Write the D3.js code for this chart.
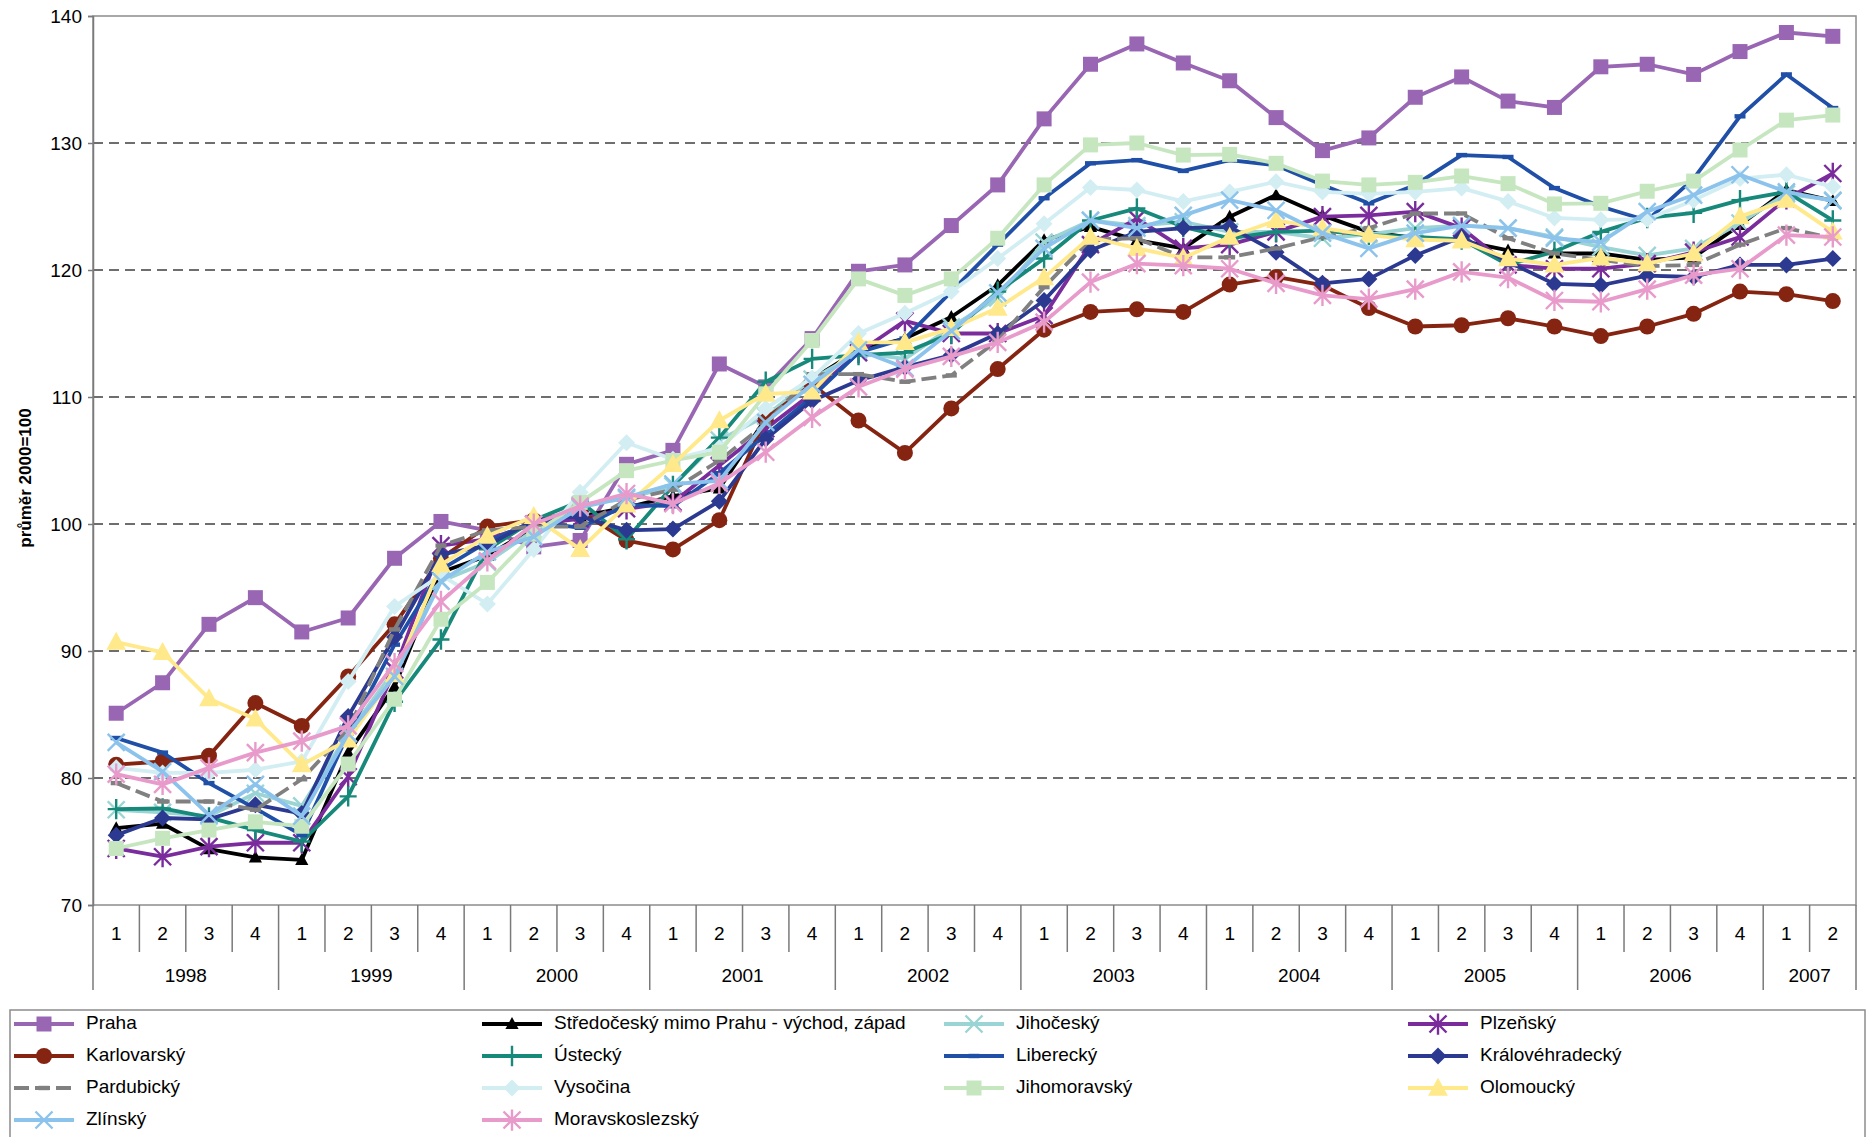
<!DOCTYPE html>
<html>
<head>
<meta charset="utf-8">
<script src="https://cdn.jsdelivr.net/npm/d3@7"></script>
<style>
  html, body { margin: 0; padding: 0; background: #fff; }
  svg { display: block; font-family: "Liberation Sans", Arial, sans-serif; }
</style>
</head>
<body>
<svg id="chart" width="1867" height="1137"></svg>
<script>
// Quarterly index values by region (average 2000 = 100)
const quarterLabels = ["1","2","3","4","1","2","3","4","1","2","3","4","1","2","3","4","1","2","3","4",
                       "1","2","3","4","1","2","3","4","1","2","3","4","1","2","3","4","1","2"];
const yearLabels = ["1998","1999","2000","2001","2002","2003","2004","2005","2006","2007"];
const yearSpans  = [4, 4, 4, 4, 4, 4, 4, 4, 4, 2];
const yTicks = [70, 80, 90, 100, 110, 120, 130, 140];

const praha = [85.1, 87.5, 92.1, 94.2, 91.5, 92.6, 97.3, 100.2, 99.5, 98.2, 98.7, 104.7, 105.8, 112.6, 110.8, 114.6, 119.9, 120.4, 123.5, 126.7, 131.9, 136.2, 137.8, 136.3, 134.9, 132.0, 129.4, 130.4, 133.6, 135.2, 133.3, 132.8, 136.0, 136.2, 135.4, 137.2, 138.7, 138.4];
const stredocesky = [76.05, 76.4, 74.4, 73.75, 73.55, 82.0, 87.2, 96.2, 97.5, 99.7, 100.6, 101.3, 102.2, 102.8, 108.3, 111.4, 113.7, 114.6, 116.3, 118.8, 122.35, 123.4, 122.35, 121.7, 124.2, 125.9, 124.3, 123.0, 122.5, 122.3, 121.55, 121.3, 121.3, 120.8, 121.0, 123.55, 126.3, 125.45];
const jihocesky = [77.5, 77.3, 77.0, 78.8, 77.8, 83.5, 88.5, 95.5, 97.0, 99.5, 101.5, 102.0, 103.0, 106.6, 108.5, 111.4, 113.5, 113.0, 115.5, 117.8, 122.2, 123.9, 123.5, 123.8, 123.0, 123.0, 122.5, 122.8, 123.3, 123.5, 123.3, 122.6, 121.8, 121.15, 121.7, 123.7, 126.0, 125.5];
const plzensky = [74.45, 73.8, 74.6, 74.9, 74.9, 80.1, 88.5, 98.3, 98.8, 100.0, 100.4, 101.2, 101.7, 104.6, 107.5, 110.3, 113.5, 116.0, 115.0, 115.0, 116.4, 122.0, 124.05, 121.7, 122.0, 123.0, 124.2, 124.3, 124.6, 123.3, 120.4, 120.1, 120.1, 120.5, 121.4, 122.6, 125.6, 127.6];
const karlovarsky = [81.05, 81.3, 81.75, 85.9, 84.1, 88.0, 92.1, 97.3, 99.8, 100.3, 101.0, 98.7, 98.0, 100.3, 108.3, 111.0, 108.15, 105.6, 109.1, 112.2, 115.3, 116.7, 116.9, 116.7, 118.85, 119.45, 118.8, 117.0, 115.55, 115.65, 116.2, 115.55, 114.8, 115.55, 116.55, 118.3, 118.1, 117.55];
const ustecky = [77.55, 77.6, 76.9, 75.9, 75.0, 78.55, 86.0, 90.9, 98.0, 100.3, 101.8, 98.8, 103.0, 106.8, 111.2, 113.0, 113.3, 113.5, 115.0, 118.3, 120.9, 123.9, 124.85, 123.4, 122.5, 123.0, 123.1, 122.75, 122.6, 122.4, 120.4, 121.45, 123.0, 124.1, 124.5, 125.5, 126.15, 123.9];
const liberecky = [83.15, 82.0, 79.6, 77.6, 75.5, 83.5, 90.5, 96.4, 98.6, 100.2, 99.7, 101.5, 101.4, 104.0, 107.0, 110.0, 113.5, 114.6, 118.3, 122.0, 125.65, 128.4, 128.65, 127.8, 128.65, 128.25, 126.7, 125.25, 126.7, 129.05, 128.9, 126.45, 125.0, 123.9, 127.2, 132.1, 135.4, 132.75];
const kralovehradecky = [75.5, 76.85, 76.75, 77.9, 77.2, 84.85, 91.1, 97.6, 98.3, 100.3, 100.6, 99.5, 99.6, 101.8, 106.7, 109.7, 111.3, 112.35, 113.3, 115.0, 117.6, 121.55, 123.0, 123.3, 123.4, 121.4, 118.95, 119.3, 121.15, 122.6, 120.65, 118.9, 118.8, 119.55, 119.45, 120.4, 120.4, 120.9];
const pardubicky = [79.6, 78.15, 78.15, 77.5, 79.9, 83.8, 91.7, 98.3, 99.5, 99.8, 99.8, 101.9, 102.7, 105.0, 107.9, 111.8, 111.8, 111.2, 111.7, 114.45, 118.65, 122.4, 122.5, 121.0, 121.0, 121.7, 122.6, 123.3, 124.45, 124.45, 122.5, 121.3, 120.8, 120.3, 120.4, 122.0, 123.3, 122.5];
const vysocina = [80.8, 80.4, 80.4, 80.65, 81.3, 87.6, 93.5, 96.0, 93.7, 98.0, 102.5, 106.4, 105.1, 106.0, 109.1, 111.5, 115.0, 116.6, 118.3, 120.9, 123.65, 126.5, 126.3, 125.4, 126.15, 126.95, 126.15, 126.0, 126.15, 126.45, 125.4, 124.1, 123.95, 124.0, 125.5, 127.2, 127.5, 126.55];
const jihomoravsky = [74.45, 75.25, 75.9, 76.55, 76.2, 81.1, 86.2, 92.5, 95.4, 99.2, 101.7, 104.2, 105.0, 105.65, 110.25, 114.45, 119.3, 118.0, 119.3, 122.5, 126.7, 129.85, 130.0, 129.05, 129.1, 128.4, 127.0, 126.7, 126.9, 127.4, 126.8, 125.2, 125.25, 126.2, 127.0, 129.45, 131.8, 132.2];
const olomoucky = [90.7, 89.9, 86.25, 84.65, 81.05, 83.0, 88.15, 96.8, 99.05, 100.6, 98.0, 101.5, 104.7, 108.15, 110.25, 110.4, 114.3, 114.3, 115.4, 117.0, 119.4, 122.6, 121.7, 120.95, 122.6, 123.9, 123.3, 122.75, 122.4, 122.3, 120.9, 120.4, 120.95, 120.5, 121.3, 124.2, 125.5, 123.0];
const zlinsky = [82.8, 80.5, 77.1, 79.5, 77.0, 83.5, 88.0, 95.5, 97.8, 99.0, 101.3, 102.1, 103.15, 103.4, 108.0, 111.0, 113.7, 112.3, 115.2, 118.2, 121.7, 123.9, 123.3, 124.3, 125.5, 124.7, 122.9, 121.7, 122.9, 123.5, 123.3, 122.5, 122.2, 124.6, 125.9, 127.5, 126.15, 125.45];
const moravskoslezsky = [80.3, 79.5, 80.8, 82.0, 82.9, 84.1, 89.0, 93.9, 97.1, 100.0, 101.4, 102.4, 101.6, 103.2, 105.65, 108.4, 110.8, 112.2, 113.2, 114.3, 115.9, 119.05, 120.5, 120.35, 120.1, 118.95, 118.0, 117.7, 118.5, 119.85, 119.4, 117.6, 117.5, 118.5, 119.6, 120.1, 122.75, 122.6];

const seriesNames = ["Praha", "Středočeský mimo Prahu - východ, západ", "Jihočeský", "Plzeňský",
  "Karlovarský", "Ústecký", "Liberecký", "Královéhradecký",
  "Pardubický", "Vysočina", "Jihomoravský", "Olomoucký",
  "Zlínský", "Moravskoslezský"];
const seriesValues = [praha, stredocesky, jihocesky, plzensky, karlovarsky, ustecky, liberecky,
  kralovehradecky, pardubicky, vysocina, jihomoravsky, olomoucky, zlinsky, moravskoslezsky];

// Visual style per series: colour, marker shape, marker radius, line dash
const styles = [
  { color: "#9966b3", marker: "square",   r: 7.5 },
  { color: "#000000", marker: "triangle", r: 6 },
  { color: "#9ad4d4", marker: "times",    r: 8.5 },
  { color: "#7a2c9c", marker: "star",     r: 8.5 },
  { color: "#862412", marker: "circle",   r: 8 },
  { color: "#16897a", marker: "plus",     r: 8.5 },
  { color: "#1f4fa6", marker: "dash",     r: 5.5 },
  { color: "#2b3990", marker: "diamond",  r: 8.5 },
  { color: "#808080", marker: "dash",     r: 5.5, dash: "15,6" },
  { color: "#d2eef3", marker: "diamond",  r: 8.5 },
  { color: "#c6e6c0", marker: "square",   r: 7.5 },
  { color: "#ffe98a", marker: "triangle", r: 9 },
  { color: "#8cc3ec", marker: "times",    r: 8.5 },
  { color: "#e89bcb", marker: "star",     r: 8.5 }
];

const plot = { left: 93, right: 1856, top: 16, bottom: 905 };

const svg = d3.select("#chart");

const categories = quarterLabels.map((q, i) => i);
const x = d3.scaleBand().domain(categories).range([plot.left, plot.right]).paddingInner(0).paddingOuter(0);
const cx = i => x(i) + x.bandwidth() / 2;
const y = d3.scaleLinear().domain([70, 140]).range([plot.bottom, plot.top]);

// Horizontal dashed gridlines
svg.append("g")
  .selectAll("line")
  .data(yTicks.filter(v => v > 70 && v < 140))
  .join("line")
  .attr("x1", plot.left).attr("x2", plot.right)
  .attr("y1", d => y(d)).attr("y2", d => y(d))
  .attr("stroke", "#6e6e6e")
  .attr("stroke-width", 1.8)
  .attr("stroke-dasharray", "10,6");

// Plot frame
svg.append("rect")
  .attr("x", plot.left).attr("y", plot.top)
  .attr("width", plot.right - plot.left).attr("height", plot.bottom - plot.top)
  .attr("fill", "none").attr("stroke", "#8c8c8c").attr("stroke-width", 1.5);

// Y axis
const yAxis = svg.append("g")
  .attr("transform", `translate(${plot.left},0)`)
  .call(d3.axisLeft(y).tickValues(yTicks).tickSize(5).tickPadding(6).tickFormat(d3.format("d")));
yAxis.select(".domain").attr("stroke", "#7a7a7a").attr("stroke-width", 1.5);
yAxis.selectAll(".tick line").attr("stroke", "#7a7a7a").attr("stroke-width", 1.5);
yAxis.selectAll("text").attr("font-size", 19).attr("fill", "#000")
  .attr("font-family", "'Liberation Sans', Arial, sans-serif");

svg.append("text")
  .attr("transform", `translate(27,${478}) rotate(-90)`)
  .attr("text-anchor", "middle")
  .attr("dominant-baseline", "middle")
  .attr("font-size", 17)
  .attr("font-weight", "bold")
  .text("průměr 2000=100");

// Two-level category axis: quarters and years
const axisG = svg.append("g");
const innerTickBottom = 952;
const outerTickBottom = 990;
const yearStarts = [];
let acc = 0;
yearSpans.forEach(n => { yearStarts.push(acc); acc += n; });
for (let i = 0; i <= quarterLabels.length; i++) {
  const xpos = i < quarterLabels.length ? x(i) : plot.right;
  const isYear = i === quarterLabels.length || yearStarts.includes(i);
  axisG.append("line")
    .attr("x1", xpos).attr("x2", xpos)
    .attr("y1", plot.bottom).attr("y2", isYear ? outerTickBottom : innerTickBottom)
    .attr("stroke", "#7a7a7a").attr("stroke-width", 1.5);
}
axisG.selectAll("text.q")
  .data(quarterLabels)
  .join("text")
  .attr("class", "q")
  .attr("x", (d, i) => cx(i))
  .attr("y", 935)
  .attr("text-anchor", "middle")
  .attr("dominant-baseline", "middle")
  .attr("font-size", 19)
  .text(d => d);
axisG.selectAll("text.yr")
  .data(yearLabels)
  .join("text")
  .attr("class", "yr")
  .attr("x", (d, i) => {
    const s = yearStarts[i], e = s + yearSpans[i];
    const x0 = x(s), x1 = e < quarterLabels.length ? x(e) : plot.right;
    return (x0 + x1) / 2;
  })
  .attr("y", 977)
  .attr("text-anchor", "middle")
  .attr("dominant-baseline", "middle")
  .attr("font-size", 19)
  .text(d => d);

// Marker shapes
function markerPath(type, r) {
  const p = d3.path();
  switch (type) {
    case "square": p.rect(-r, -r, 2 * r, 2 * r); break;
    case "circle": p.arc(0, 0, r, 0, 2 * Math.PI); p.closePath(); break;
    case "triangle":
      p.moveTo(0, -r * 1.15); p.lineTo(r * 1.1, r * 0.85); p.lineTo(-r * 1.1, r * 0.85); p.closePath(); break;
    case "diamond":
      p.moveTo(0, -r); p.lineTo(r, 0); p.lineTo(0, r); p.lineTo(-r, 0); p.closePath(); break;
    case "times":
      p.moveTo(-r, -r); p.lineTo(r, r); p.moveTo(-r, r); p.lineTo(r, -r); break;
    case "star":
      p.moveTo(-r, -r); p.lineTo(r, r); p.moveTo(-r, r); p.lineTo(r, -r);
      p.moveTo(0, -r * 1.25); p.lineTo(0, r * 1.25); break;
    case "plus":
      p.moveTo(-r, 0); p.lineTo(r, 0); p.moveTo(0, -r * 1.2); p.lineTo(0, r * 1.2); break;
    case "dash":
      p.rect(-r, -2.2, 2 * r, 4.4); break;
  }
  return p.toString();
}
const strokedMarkers = new Set(["times", "star", "plus"]);
function styleMarker(sel, st) {
  if (strokedMarkers.has(st.marker)) {
    sel.attr("fill", "none").attr("stroke", st.color).attr("stroke-width", 2.4);
  } else {
    sel.attr("fill", st.color).attr("stroke", "none");
  }
}

// Series lines and markers
const line = d3.line().x((d, i) => cx(i)).y(d => y(d));
const seriesG = svg.append("g");
seriesValues.forEach((vals, si) => {
  const st = styles[si];
  const g = seriesG.append("g");
  g.append("path")
    .attr("d", line(vals))
    .attr("fill", "none")
    .attr("stroke", st.color)
    .attr("stroke-width", 3.8)
    .attr("stroke-linejoin", "round")
    .attr("stroke-dasharray", st.dash || null);
  g.selectAll("path.m")
    .data(vals)
    .join("path")
    .attr("class", "m")
    .attr("transform", (d, i) => `translate(${cx(i)},${y(d)})`)
    .attr("d", markerPath(st.marker, st.r))
    .call(styleMarker, st);
});

// Legend
const legendCols = [14, 482, 944, 1408];
const legendRows = [1024, 1056, 1088, 1120];
svg.append("rect")
  .attr("x", 10).attr("y", 1010).attr("width", 1855).attr("height", 140)
  .attr("fill", "#fff").attr("stroke", "#8c8c8c").attr("stroke-width", 1.5);
const legend = svg.append("g");
seriesNames.forEach((name, si) => {
  const st = styles[si];
  const lx = legendCols[si % 4], ly = legendRows[Math.floor(si / 4)];
  const item = legend.append("g");
  item.append("line")
    .attr("x1", lx).attr("x2", lx + 60).attr("y1", ly).attr("y2", ly)
    .attr("stroke", st.color).attr("stroke-width", 3.8)
    .attr("stroke-dasharray", st.dash || null);
  item.append("path")
    .attr("transform", `translate(${lx + 30},${ly})`)
    .attr("d", markerPath(st.marker, st.r))
    .call(styleMarker, st);
  item.append("text")
    .attr("x", lx + 72).attr("y", ly)
    .attr("dominant-baseline", "middle")
    .attr("font-size", 19)
    .text(name);
});
</script>
</body>
</html>
